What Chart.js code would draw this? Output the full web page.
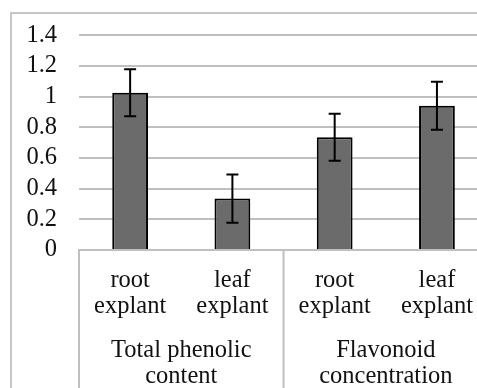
<!DOCTYPE html>
<html>
<head>
<meta charset="utf-8">
<script src="https://cdn.jsdelivr.net/npm/chart.js@4/dist/chart.umd.min.js"></script>
<style>
  html, body { margin: 0; padding: 0; background: #fff; overflow: hidden; width: 477px; height: 388px; }
  #wrap { position: absolute; left: 0; top: 0; width: 477px; height: 388px; overflow: hidden; }
  #c { position: absolute; left: 0; top: 0; }
  #frame { position: absolute; left: 10px; top: 12px; width: 600px; height: 600px; border: 2px solid #c6c6c6; box-sizing: border-box; pointer-events: none; }
</style>
</head>
<body>
<div id="wrap">
  <canvas id="c" width="490" height="400" style="width:490px;height:400px"></canvas>
  <div id="frame"></div>
</div>
<script>
// ---- data ----
const categories = [['root', 'explant'], ['leaf', 'explant'], ['root', 'explant'], ['leaf', 'explant']];
const groups = [['Total phenolic', 'content'], ['Flavonoid', 'concentration']];
const means = [1.025, 0.335, 0.735, 0.94];
const errors = [0.153, 0.157, 0.153, 0.156];
const yTickLabels = ['0', '0.2', '0.4', '0.6', '0.8', '1', '1.2', '1.4'];

const FONT = { family: '"Liberation Serif", "Times New Roman", serif', size: 24.5, lineHeight: 1.08 };
const GRID = '#c0c0c0';
const TEXT = '#111';

const errorBars = {
  id: 'errorBars',
  afterDatasetsDraw(chart) {
    const ctx = chart.ctx;
    const meta = chart.getDatasetMeta(0);
    const y = chart.scales.y;
    ctx.save();
    ctx.strokeStyle = '#000';
    ctx.lineWidth = 2;
    meta.data.forEach((bar, i) => {
      const x = bar.x;
      const yt = y.getPixelForValue(means[i] + errors[i]);
      const yb = y.getPixelForValue(means[i] - errors[i]);
      const cap = 6;
      ctx.beginPath();
      ctx.moveTo(x, yt); ctx.lineTo(x, yb);
      ctx.moveTo(x - cap, yt); ctx.lineTo(x + cap, yt);
      ctx.moveTo(x - cap, yb); ctx.lineTo(x + cap, yb);
      ctx.stroke();
    });
    ctx.restore();
  }
};

const separators = {
  id: 'separators',
  afterDraw(chart) {
    const ctx = chart.ctx;
    const xs = chart.scales.x;
    const n = categories.length;
    const per = n / groups.length;
    ctx.save();
    ctx.strokeStyle = GRID;
    ctx.lineWidth = 2;
    for (let g = 0; g <= groups.length; g++) {
      const idx = g * per;
      let px;
      if (idx === 0) px = xs.left;
      else if (idx >= n) px = xs.right;
      else px = (xs.getPixelForValue(idx - 1) + xs.getPixelForValue(idx)) / 2;
      ctx.beginPath();
      ctx.moveTo(px, xs.top);
      ctx.lineTo(px, chart.height);
      ctx.stroke();
    }
    ctx.restore();
  }
};

new Chart(document.getElementById('c'), {
  type: 'bar',
  data: {
    labels: categories,
    datasets: [{
      data: means,
      backgroundColor: '#6b6b6b',
      borderColor: '#000',
      borderWidth: 2,
      categoryPercentage: 1,
      barPercentage: 0.35,
      xAxisID: 'x',
      yAxisID: 'y'
    }]
  },
  options: {
    responsive: false,
    animation: false,
    layout: { padding: { left: 0, right: 0, top: 32, bottom: 0 } },
    plugins: { legend: { display: false }, tooltip: { enabled: false } },
    scales: {
      y: {
        min: 0, max: 1.4,
        afterFit(s) { s.width = 79; },
        ticks: {
          stepSize: 0.2,
          padding: 22,
          color: TEXT,
          font: FONT,
          callback: (v, i) => yTickLabels[i]
        },
        grid: { color: GRID, lineWidth: 2, drawTicks: false },
        border: { display: false }
      },
      x: {
        position: 'bottom',
        afterFit(s) { s.height = 78; },
        ticks: { padding: 17, color: TEXT, font: FONT, maxRotation: 0, autoSkip: false },
        grid: { display: false, drawTicks: false },
        border: { display: true, color: GRID, width: 2 }
      },
      x2: {
        type: 'category',
        position: 'bottom',
        labels: groups,
        offset: true,
        afterFit(s) { s.height = 72; },
        ticks: { padding: 9, color: TEXT, font: FONT, maxRotation: 0, autoSkip: false },
        grid: { display: false, drawTicks: false },
        border: { display: false }
      }
    }
  },
  plugins: [errorBars, separators]
});
</script>
</body>
</html>
